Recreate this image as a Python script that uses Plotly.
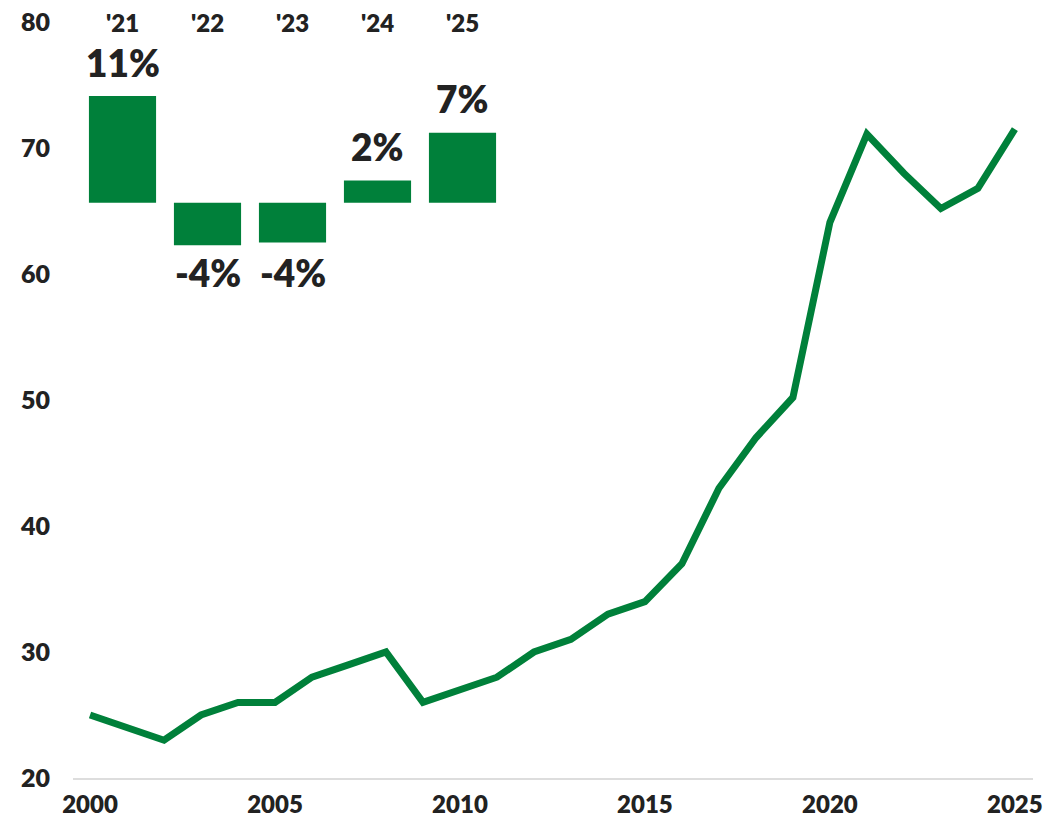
import plotly.graph_objects as go

years = list(range(2000, 2026))
values = [25, 24, 23, 25, 26, 26, 28, 29, 30, 26, 27, 28, 30, 31, 33, 34, 37, 43, 47, 50.2,
          64.1, 71.1, 68.0, 65.2, 66.8, 71.5]

bar_cats = ["'21", "'22", "'23", "'24", "'25"]
bar_vals = [11.0, -4.4, -4.1, 2.3, 7.2]
bar_labels = ["11%", "-4%", "-4%", "2%", "7%"]

GREEN = "#00803a"
DARK = "#222222"
FONT = "Lato"

fig = go.Figure()
fig.add_trace(go.Scatter(x=years, y=values, mode="lines",
                         line=dict(color=GREEN, width=7), hoverinfo="skip",
                         xaxis="x", yaxis="y"))
fig.add_trace(go.Bar(x=list(range(len(bar_cats))), y=bar_vals, marker=dict(color=GREEN, line=dict(width=0)),
                     width=0.79, xaxis="x2", yaxis="y2", hoverinfo="skip"))

ann = []
for i, c in enumerate(bar_cats):
    ann.append(dict(x=i, y=1, xref="x2", yref="paper", text=c, showarrow=False,
                    yanchor="middle", font=dict(family=FONT, size=24, color=DARK, weight=800)))
neg_min = min(v for v in bar_vals)
for i, (v, t) in enumerate(zip(bar_vals, bar_labels)):
    if v >= 0:
        ann.append(dict(x=i, y=v, xref="x2", yref="y2", text=t, showarrow=False,
                        yanchor="middle", yshift=34,
                        font=dict(family=FONT, size=37, color=DARK, weight=800)))
    else:
        ann.append(dict(x=i, y=neg_min, xref="x2", yref="y2", text=t, showarrow=False,
                        yanchor="middle", yshift=-27,
                        font=dict(family=FONT, size=37, color=DARK, weight=800)))

fig.update_layout(
    width=1048, height=817,
    margin=dict(l=73, r=15, t=22, b=39),
    paper_bgcolor="white", plot_bgcolor="white",
    showlegend=False,
    font=dict(family=FONT, size=24, color=DARK, weight=800),
    xaxis=dict(range=[1999.54, 2025.49], tickvals=[2000, 2005, 2010, 2015, 2020, 2025],
               showgrid=False, zeroline=False, showline=True, linecolor="#dddddd", linewidth=2,
               ticks="", ticklabelstandoff=4, fixedrange=True, automargin=False,
               tickfont=dict(family=FONT, size=24, color=DARK, weight=800)),
    yaxis=dict(range=[20, 80], tickvals=[20, 30, 40, 50, 60, 70, 80],
               showgrid=False, zeroline=False, showline=False, ticks="",
               ticklabelstandoff=22, fixedrange=True, automargin=False,
               tickfont=dict(family=FONT, size=25, color=DARK, weight=800)),
    xaxis2=dict(domain=[0.0073, 0.45], range=[-0.5, 4.5], anchor="y2", visible=False, fixedrange=True),
    yaxis2=dict(domain=[0.6323, 1.0], range=[-10.03, 18.63], anchor="x2", visible=False, fixedrange=True),
    annotations=ann,
)

fig.write_html("out.html", post_script="document.body.style.margin='0';",
               config={"displayModeBar": False})
